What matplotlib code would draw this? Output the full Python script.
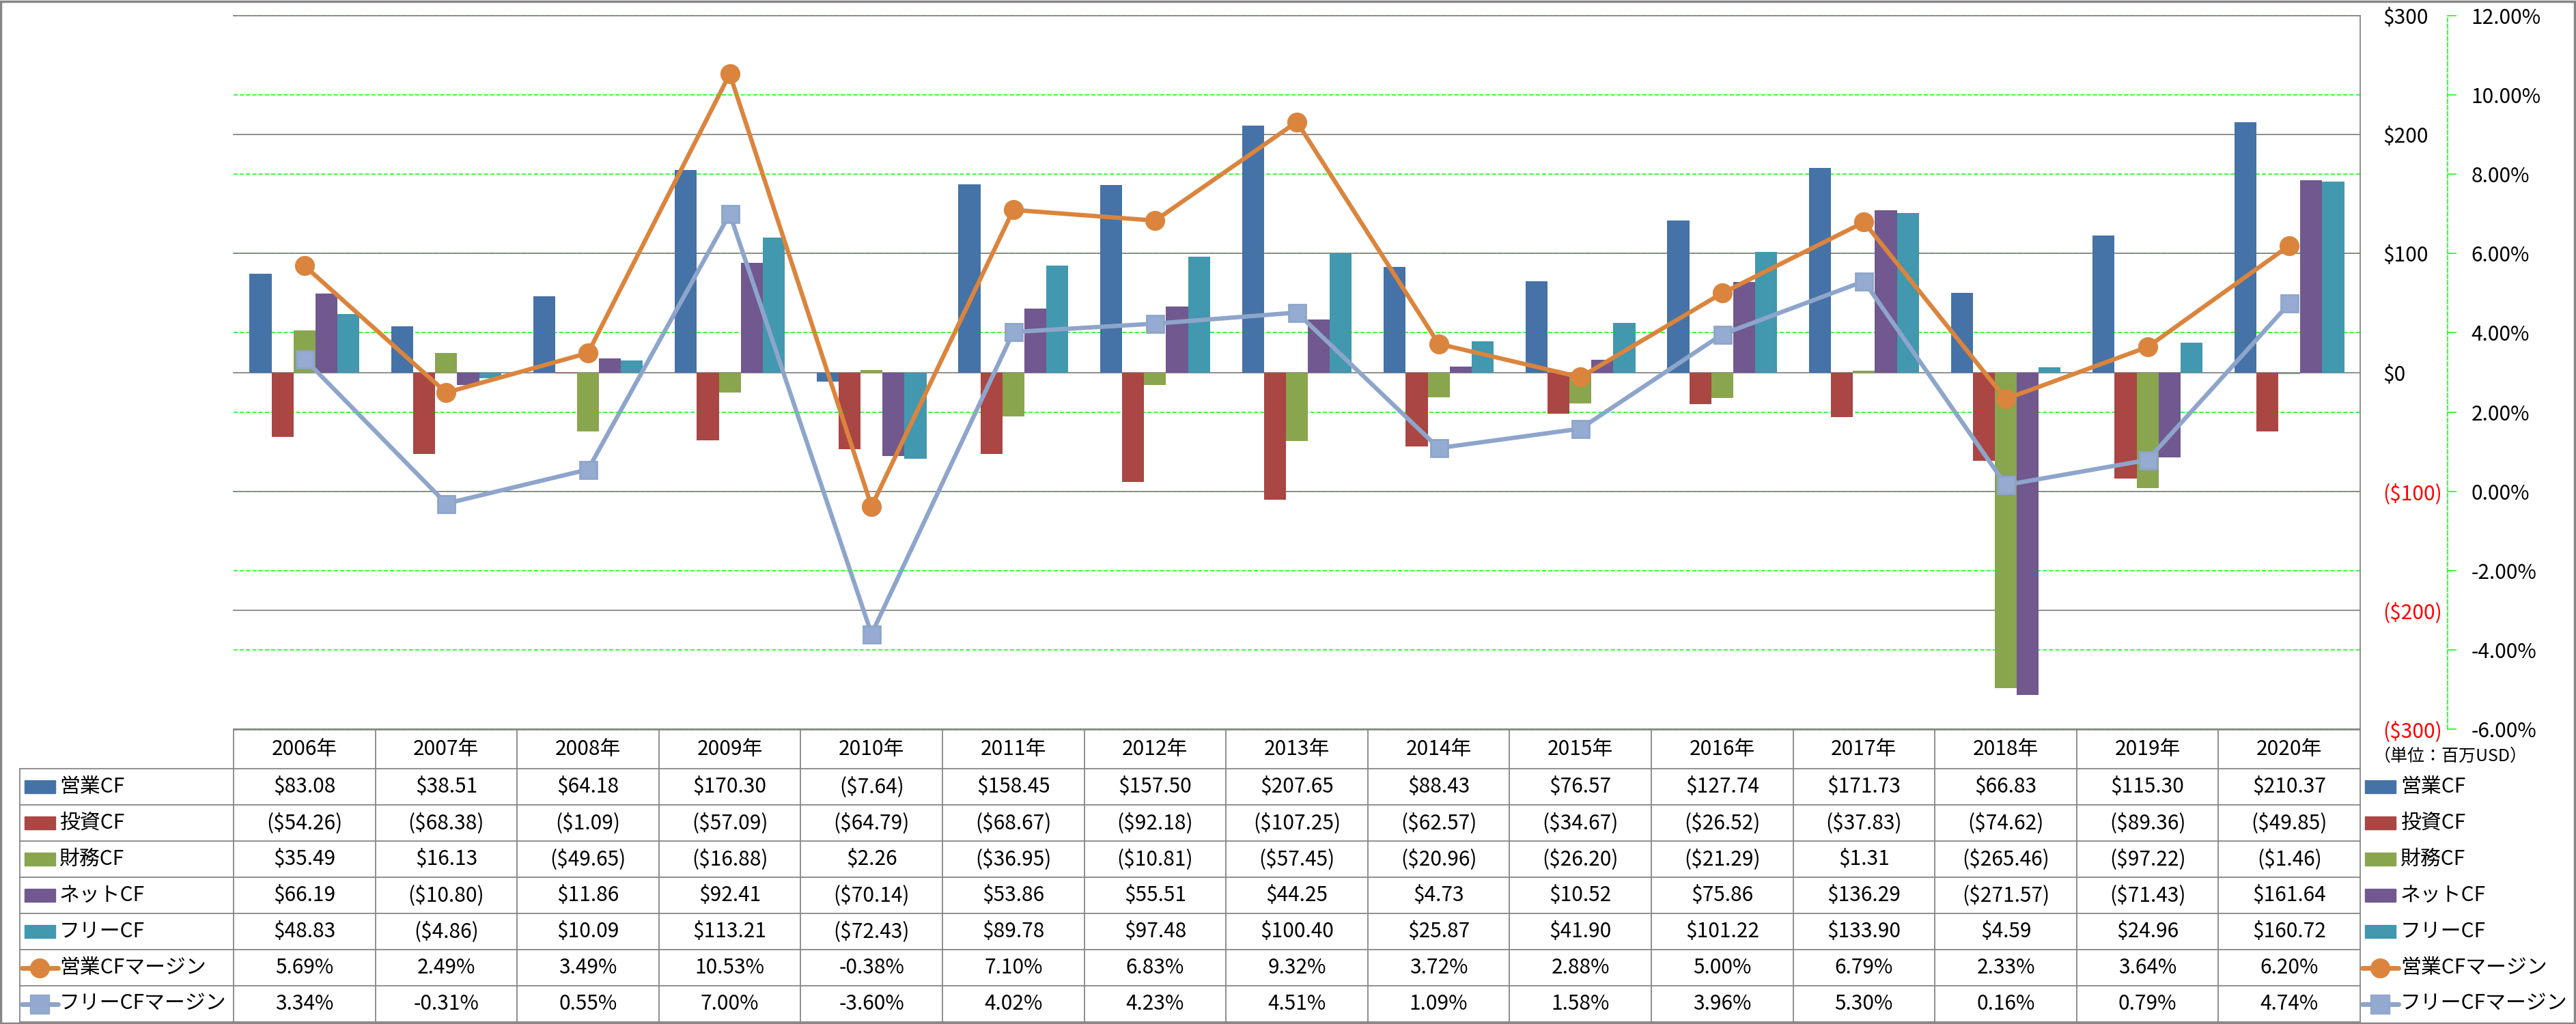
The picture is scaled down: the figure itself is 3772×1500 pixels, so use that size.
import numpy as np
import matplotlib
matplotlib.use('Agg')
import matplotlib.pyplot as plt
from matplotlib import transforms
from matplotlib.patches import Rectangle
from matplotlib.lines import Line2D

plt.rcParams['font.family'] = ['Noto Sans CJK JP', 'DejaVu Sans']

# ---- data (百万USD / %) ----
years = ['2006年', '2007年', '2008年', '2009年', '2010年', '2011年', '2012年', '2013年',
         '2014年', '2015年', '2016年', '2017年', '2018年', '2019年', '2020年']

op_cf = [83.08, 38.51, 64.18, 170.30, -7.64, 158.45, 157.50, 207.65,
         88.43, 76.57, 127.74, 171.73, 66.83, 115.30, 210.37]
inv_cf = [-54.26, -68.38, -1.09, -57.09, -64.79, -68.67, -92.18, -107.25,
          -62.57, -34.67, -26.52, -37.83, -74.62, -89.36, -49.85]
fin_cf = [35.49, 16.13, -49.65, -16.88, 2.26, -36.95, -10.81, -57.45,
          -20.96, -26.20, -21.29, 1.31, -265.46, -97.22, -1.46]
net_cf = [66.19, -10.80, 11.86, 92.41, -70.14, 53.86, 55.51, 44.25,
          4.73, 10.52, 75.86, 136.29, -271.57, -71.43, 161.64]
free_cf = [48.83, -4.86, 10.09, 113.21, -72.43, 89.78, 97.48, 100.40,
           25.87, 41.90, 101.22, 133.90, 4.59, 24.96, 160.72]
op_margin = [5.69, 2.49, 3.49, 10.53, -0.38, 7.10, 6.83, 9.32,
             3.72, 2.88, 5.00, 6.79, 2.33, 3.64, 6.20]
free_margin = [3.34, -0.31, 0.55, 7.00, -3.60, 4.02, 4.23, 4.51,
               1.09, 1.58, 3.96, 5.30, 0.16, 0.79, 4.74]

bar_names = ['営業CF', '投資CF', '財務CF', 'ネットCF', 'フリーCF']
line_names = ['営業CFマージン', 'フリーCFマージン']
bar_colors = ['#4572A7', '#AA4643', '#89A54E', '#71588F', '#4198AF']
line_colors = ['#DB843D', '#93A9CF']

usd_ticks = [-300, -200, -100, 0, 100, 200, 300]
pct_ticks = [-6, -4, -2, 0, 2, 4, 6, 8, 10, 12]
unit_note = '（単位：百万USD）'

W, H = 3773, 1500
FS = 21.5
GRAY = '#868686'
GREEN = '#00FF00'


def fx(px):
    return px / W


def fy(py):
    return 1 - py / H


def fmt_usd(v):
    return f'${v:,.2f}' if v >= 0 else f'(${-v:,.2f})'


def fmt_pct(v):
    return f'{v:.2f}%'


fig = plt.figure(figsize=(W / 100, H / 100), dpi=100)
fig.patch.set_facecolor('white')

ax = fig.add_axes([fx(342), fy(1068), fx(3456) - fx(342), fy(23) - fy(1068)])
ax2 = ax.twinx()

x = np.arange(len(years))
bw = 0.155
bar_series = [op_cf, inv_cf, fin_cf, net_cf, free_cf]
for k, (vals, col) in enumerate(zip(bar_series, bar_colors)):
    ax.bar(x + (k - 2) * bw, vals, width=bw, color=col, zorder=2)

ax.set_xlim(-0.5, len(years) - 0.5)
ax.set_ylim(-300, 300)
ax.set_xticks([])
ax.yaxis.tick_right()
ax.set_yticks(usd_ticks, labels=[('$' + str(v)) if v >= 0 else f'(${-v})' for v in usd_ticks])
for t, v in zip(ax.get_yticklabels(), usd_ticks):
    t.set_color('red' if v < 0 else 'black')
ax.tick_params(axis='y', length=0, pad=24, labelsize=FS)
ax.set_axisbelow(True)
for s in ['top', 'left', 'bottom']:
    ax.spines[s].set_visible(False)
ax.spines['right'].set_color(GRAY)
ax.spines['right'].set_linewidth(1.3)

# secondary axis (margins)
ax2.set_ylim(-6, 12)
ax2.set_yticks(pct_ticks, labels=[f'{v:.2f}%' for v in pct_ticks])
for t, v in zip(ax2.get_yticklabels(), pct_ticks):
    t.set_color('red' if v < 0 else 'black')
for s in ['top', 'left', 'bottom']:
    ax2.spines[s].set_visible(False)
ax2.spines['right'].set_position(('outward', 128 * 0.72))
ax2.spines['right'].set_color(GREEN)
ax2.spines['right'].set_linestyle((0, (4, 2)))
ax2.spines['right'].set_linewidth(1.1)
ax2.tick_params(axis='y', length=9, width=1.1, color=GREEN, pad=16, labelsize=FS)

# green dashed gridlines for the secondary axis, then gray major gridlines, all behind the bars
gtrans = transforms.blended_transform_factory(ax.transAxes, ax2.transData)
for v in pct_ticks:
    ax.plot([0, 1], [v, v], transform=gtrans, color=GREEN, lw=1.1,
            ls=(0, (4, 2)), zorder=0.3, clip_on=False)
for v in usd_ticks:
    ax.axhline(v, color=GRAY, lw=1.3, zorder=0.5, clip_on=False)

ax2.plot(x, op_margin, color=line_colors[0], lw=4.6, marker='o', ms=20,
         mfc='#DB843D', mec='#DB843D', zorder=3)
ax2.plot(x, free_margin, color='#8EA5CB', lw=4.6, marker='s', ms=18,
         mfc='#95ABD1', mec='#8EA5CB', mew=2, zorder=3)

# ---- data table under the chart ----
def data_to_fig(xd):
    disp = ax.transData.transform((xd, 0))
    return fig.transFigure.inverted().transform(disp)[0]


edges = [data_to_fig(i - 0.5) for i in range(len(years) + 1)]
centers = [data_to_fig(i) for i in range(len(years))]
lab_left = fx(29)
head_top, head_bot = 1069, 1126
row_h = 53
n_rows = 7
row_lines = [head_bot + row_h * r for r in range(n_rows + 1)]

ln_kw = dict(color=GRAY, lw=1.3, transform=fig.transFigure)
fig.add_artist(Line2D([edges[0], edges[-1]], [fy(head_top), fy(head_top)], **ln_kw))
for yl in row_lines:
    fig.add_artist(Line2D([lab_left, edges[-1]], [fy(yl), fy(yl)], **ln_kw))
for e in edges:
    fig.add_artist(Line2D([e, e], [fy(head_top), fy(row_lines[-1])], **ln_kw))
fig.add_artist(Line2D([lab_left, lab_left], [fy(head_bot), fy(row_lines[-1])], **ln_kw))

for c, yr in zip(centers, years):
    fig.text(c, fy((head_top + head_bot) / 2), yr, ha='center', va='center', fontsize=FS)

row_vals = [[fmt_usd(v) for v in s] for s in bar_series] + \
           [[fmt_pct(v) for v in op_margin], [fmt_pct(v) for v in free_margin]]
row_names = bar_names + line_names
row_kinds = ['bar'] * 5 + ['o', 's']
row_cols = bar_colors + line_colors


def draw_key(x0, x1, yc, kind, col):
    if kind == 'bar':
        fig.add_artist(Rectangle((fx(x0), fy(yc + 9.5)), fx(x1) - fx(x0), 19 / H,
                                 transform=fig.transFigure, color=col))
    else:
        mec = '#8EA5CB' if kind == 's' else col
        fig.add_artist(Line2D([fx(x0 - 4), fx(x1 + 4)], [fy(yc), fy(yc)],
                              transform=fig.transFigure, color=mec, lw=5,
                              solid_capstyle='round'))
        fig.add_artist(Line2D([(fx(x0) + fx(x1)) / 2], [fy(yc)], transform=fig.transFigure,
                              marker=kind, ms=20, mfc=col, mec=mec, ls='none'))


for r in range(n_rows):
    yc = (row_lines[r] + row_lines[r + 1]) / 2
    for c, s in zip(centers, row_vals[r]):
        fig.text(c, fy(yc), s, ha='center', va='center', fontsize=FS)
    draw_key(36, 81, yc, row_kinds[r], row_cols[r])
    fig.text(fx(87), fy(yc), row_names[r], ha='left', va='center', fontsize=FS)
    # legend to the right of the table
    draw_key(3463, 3508, yc, row_kinds[r], row_cols[r])
    fig.text(fx(3515), fy(yc), row_names[r], ha='left', va='center', fontsize=FS)

fig.text(fx(3588), fy(1108), unit_note, ha='center', va='center', fontsize=18)

# chart frame
fig.add_artist(Rectangle((fx(1.5), fy(1498.5)), fx(3770) - fx(1.5), fy(1.5) - fy(1498.5),
                         transform=fig.transFigure, fill=False, edgecolor=GRAY, lw=2.5))

fig.savefig('out.png', dpi=100, facecolor='white')
